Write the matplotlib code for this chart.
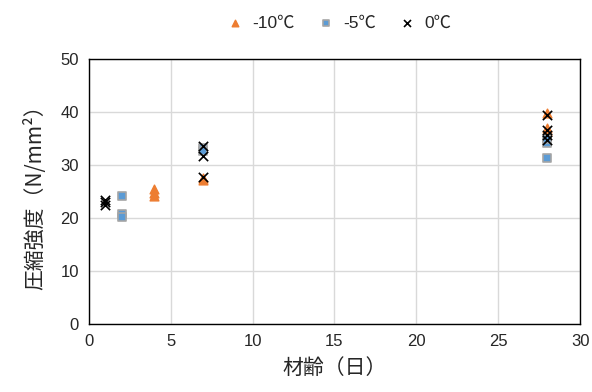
import matplotlib.pyplot as plt

# 材齢（日）と圧縮強度
days_m10 = [4, 4, 4, 7, 7, 28, 28, 28]
str_m10 = [25.5, 24.8, 24.2, 27.2, 27.5, 39.8, 37.0, 36.4]

days_m5 = [2, 2, 2, 7, 7, 28, 28, 28]
str_m5 = [24.2, 20.8, 20.3, 33.2, 32.6, 34.2, 35.0, 31.3]

days_0 = [1, 1, 1, 7, 7, 7, 28, 28, 28, 28]
str_0 = [22.5, 23.0, 23.4, 33.6, 31.7, 27.7, 39.4, 36.6, 35.7, 34.7]

jp = ['Noto Sans CJK JP', 'DejaVu Sans']
plt.rcParams['font.family'] = ['Liberation Sans', 'Noto Sans CJK JP', 'DejaVu Sans']

fig = plt.figure(figsize=(5.92, 3.92), dpi=100)
ax = fig.add_axes([0.150, 0.173, 0.830, 0.676])

ax.scatter(days_m10, str_m10, marker='^', s=40, color='#ED7D31', label='-10℃', zorder=3)
ax.scatter(days_m5, str_m5, marker='s', s=36, color='#5B9BD5', edgecolors='#A5A5A5',
           linewidths=1.2, label='-5℃', zorder=3)
ax.scatter(days_0, str_0, marker='x', s=45, color='black', linewidths=1.2, label='0℃', zorder=4)

ax.set_xlim(0, 30)
ax.set_ylim(0, 50)
ax.set_xticks(range(0, 31, 5))
ax.set_yticks(range(0, 51, 10))
ax.grid(True, color='#D9D9D9', linewidth=1)
ax.set_axisbelow(True)
ax.tick_params(length=0, labelsize=12, colors='#262626', pad=7)
for s in ax.spines.values():
    s.set_color('black')
    s.set_linewidth(1)

ax.set_xlabel('材齢（日）', fontsize=15, family=jp, color='#262626', labelpad=6)
ax.set_ylabel('圧縮強度（N/mm²）', fontsize=15, family=jp, color='#262626', labelpad=10)

ax.legend(loc='lower center', bbox_to_anchor=(0.5, 1.05), ncol=3, frameon=False,
          handletextpad=0.0, columnspacing=0.8, labelcolor='#262626', markerscale=0.75,
          prop={'family': ['Liberation Sans', 'Noto Sans CJK JP'], 'size': 12.5})

fig.savefig('out.png', dpi=100)
